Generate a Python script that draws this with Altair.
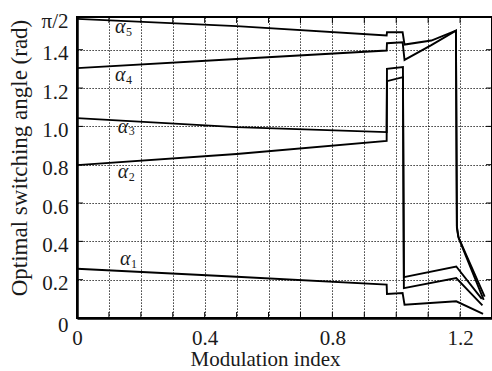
import altair as alt
import pandas as pd

# Modulation index (m) and optimal switching angle (rad) for each angle
m1 = [0, 0.5, 0.97, 0.971, 1.020, 1.026, 1.188, 1.272]
a1 = [0.257, 0.215, 0.174, 0.125, 0.130, 0.069, 0.087, 0.022]
m2 = [0, 0.5, 0.97, 0.971, 1.021, 1.024, 1.188, 1.270]
a2 = [0.798, 0.856, 0.924, 1.236, 1.257, 0.156, 0.208, 0.066]
m3 = [0, 0.5, 0.97, 0.971, 1.021, 1.024, 1.188, 1.268]
a3 = [1.043, 0.996, 0.970, 1.300, 1.309, 0.213, 0.269, 0.100]
m4 = [0, 0.5, 0.97, 0.971, 1.020, 1.026, 1.11, 1.187, 1.190, 1.196, 1.274]
a4 = [1.304, 1.352, 1.396, 1.434, 1.439, 1.347, 1.424, 1.500, 0.470, 0.415, 0.095]
m5 = [0, 0.5, 0.97, 0.971, 1.020, 1.026, 1.11, 1.187, 1.190, 1.194, 1.277]
a5 = [1.561, 1.523, 1.474, 1.491, 1.491, 1.427, 1.448, 1.500, 0.480, 0.425, 0.112]

series_names = ["a1", "a2", "a3", "a4", "a5"]
series_m = [m1, m2, m3, m4, m5]
series_a = [a1, a2, a3, a4, a5]

# curve labels (alpha + subscript), baseline position in data units
label_m = [0.135, 0.128, 0.128, 0.119, 0.119]
label_a = [0.274, 0.728, 0.966, 1.235, 1.485]
label_sym = ["α", "α", "α", "α", "α"]
label_sub = ["1", "2", "3", "4", "5"]

x_ticks = [0, 0.1, 0.2, 0.3, 0.4, 0.5, 0.6, 0.7, 0.8, 0.9, 1.0, 1.1, 1.2, 1.3]
y_ticks = [0, 0.2, 0.4, 0.6, 0.8, 1.0, 1.2, 1.4, 1.5708]
x_inner = [0.1, 0.2, 0.3, 0.4, 0.5, 0.6, 0.7, 0.8, 0.9, 1.0, 1.1, 1.2]
y_inner = [0.2, 0.4, 0.6, 0.8, 1.0, 1.2, 1.4]

rows = []
for name, ms, aa in zip(series_names, series_m, series_a):
    for i, (m, a) in enumerate(zip(ms, aa)):
        rows.append({"series": name, "m": m, "a": a, "order": i})
df = pd.DataFrame(rows)
df_lab = pd.DataFrame({"m": label_m, "a": label_a, "sym": label_sym, "sub": label_sub})

W, H = 415, 301
FONT = "Liberation Serif"
TXT = "#1a1a1a"

xs = alt.Scale(domain=[0, 1.3], nice=False, zero=False)
ys = alt.Scale(domain=[0, 1.5708], nice=False, zero=False)

x_axis = alt.Axis(
    values=x_ticks,
    labelExpr="round(datum.value*10) % 4 == 0 ? (datum.value == 0 ? '0' : format(datum.value, '.1f')) : ''",
    grid=True, gridColor="black", gridDash=[1.2, 1.8], gridWidth=1, gridOpacity=1,
    ticks=False, domainColor="black", domainWidth=2.5,
    labelFont=FONT, labelFontSize=21, labelColor=TXT, labelPadding=9,
    labelFlush=False, labelOverlap=False,
    title="Modulation index", titleFont=FONT, titleFontSize=21, titleFontWeight="normal",
    titleColor=TXT, titleX=188, titleY=47, titleAlign="center", titleBaseline="alphabetic",
)
y_axis = alt.Axis(
    values=y_ticks,
    labelExpr="datum.value > 1.5 ? 'π/2' : (datum.value == 0 ? '0' : format(datum.value, '.1f'))",
    grid=True, gridColor="black", gridDash=[1.2, 1.8], gridWidth=1, gridOpacity=1,
    ticks=False, domainColor="black", domainWidth=2.5,
    labelFont=FONT, labelFontSize=21, labelColor=TXT, labelPadding=9,
    labelFlush=False, labelOverlap=False,
    labelOffset={"condition": {"test": "datum.value == 0", "value": 7}, "value": 4},
    title="Optimal switching angle (rad)", titleFont=FONT, titleFontSize=23,
    titleFontWeight="normal", titleColor=TXT, titleX=-51, titleY=140.5,
    titleAngle=270, titleAlign="center", titleBaseline="alphabetic",
)

X = alt.X("m:Q", scale=xs, axis=x_axis)
Y = alt.Y("a:Q", scale=ys, axis=y_axis)

lines = alt.Chart(df).mark_line(color="black", strokeWidth=1.9).encode(
    x=X, y=Y, detail="series:N", order="order:Q",
)

tx = pd.DataFrame({"m": x_inner})
ty = pd.DataFrame({"a": y_inner})
tick_b = alt.Chart(tx).mark_rule(color="black", strokeWidth=1).encode(
    x=X, y=alt.value(H), y2=alt.value(H - 6))
tick_t = alt.Chart(tx).mark_rule(color="black", strokeWidth=1).encode(
    x=X, y=alt.value(0), y2=alt.value(6))
tick_l = alt.Chart(ty).mark_rule(color="black", strokeWidth=1).encode(
    y=Y, x=alt.value(0), x2=alt.value(6))
tick_r = alt.Chart(ty).mark_rule(color="black", strokeWidth=1).encode(
    y=Y, x=alt.value(W - 6), x2=alt.value(W))

sym = alt.Chart(df_lab).mark_text(
    font=FONT, fontStyle="italic", fontSize=20, align="left", baseline="alphabetic", color=TXT
).encode(x=X, y=Y, text="sym:N")
sub = alt.Chart(df_lab).mark_text(
    font=FONT, fontSize=12, align="left", baseline="alphabetic", color=TXT, dx=11, dy=2.5
).encode(x=X, y=Y, text="sub:N")

chart = alt.layer(lines, tick_b, tick_t, tick_l, tick_r, sym, sub).properties(
    width=W, height=H,
    background="white",
    autosize=alt.AutoSizeParams(type="none"),
    padding={"left": 77, "top": 17, "right": 0, "bottom": 53},
).configure_view(stroke="black", strokeWidth=2)

chart.save("out.html", embed_options={"renderer": "svg", "actions": False})
